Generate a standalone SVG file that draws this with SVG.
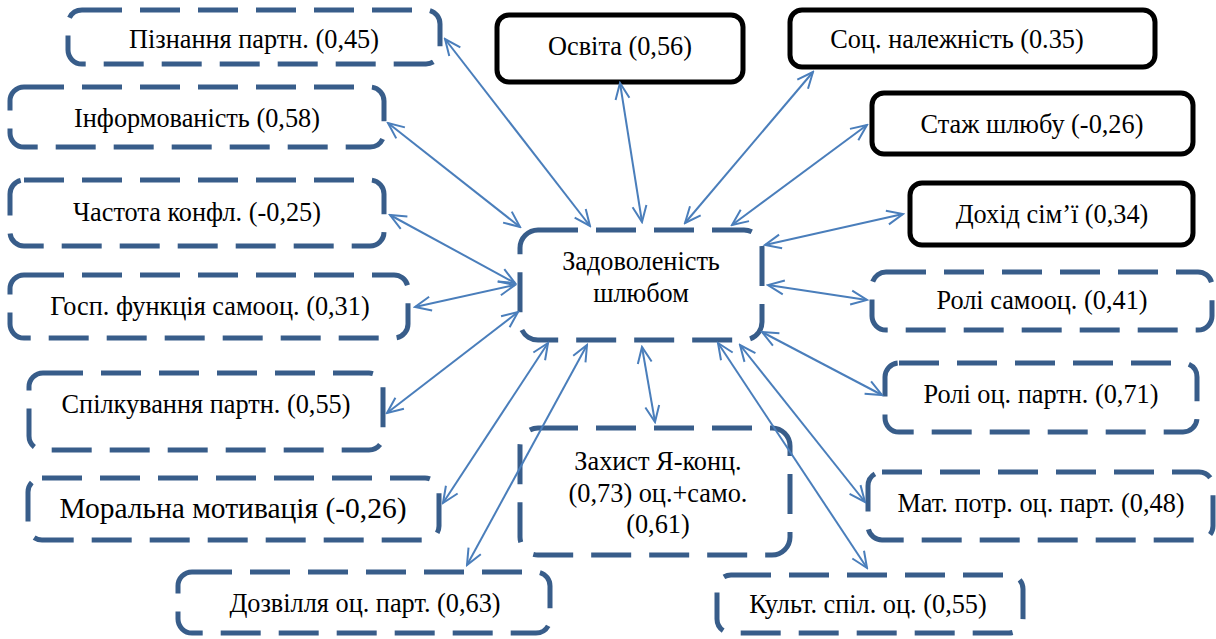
<svg xmlns="http://www.w3.org/2000/svg" width="1216" height="639" viewBox="0 0 1216 639">
<style>
.d{fill:#fff;stroke:#385D8A;stroke-width:5;stroke-dasharray:40 18}
.s{fill:#fff;stroke:#000;stroke-width:5}
text{font-family:"Liberation Serif","Times New Roman",serif;font-size:26.3px;fill:#000;text-anchor:middle}
.big{font-size:29.5px}
.c line{stroke:#4A7EBB;stroke-width:2;marker-start:url(#a);marker-end:url(#a)}
</style>
<defs>
<marker id="a" markerUnits="userSpaceOnUse" viewBox="0 0 20 20" markerWidth="20" markerHeight="20" refX="18" refY="10" orient="auto-start-reverse">
<path d="M2,3 L18,10 L2,17" fill="none" stroke="#4A7EBB" stroke-width="2"/>
</marker>
</defs>
<g id="n1"><rect class="d" x="68" y="10" width="372" height="54" rx="14"/><text x="254" y="48">Пізнання партн. (0,45)</text></g>
<g id="n2"><rect class="d" x="10" y="87" width="374" height="60" rx="14"/><text x="197" y="127">Інформованість (0,58)</text></g>
<g id="n3"><rect class="d" x="10" y="180" width="374" height="66" rx="14"/><text x="197" y="221">Частота конфл. (-0,25)</text></g>
<g id="n4"><rect class="d" x="10" y="275" width="398" height="63" rx="14"/><text x="210" y="315">Госп. функція самооц. (0,31)</text></g>
<g id="n5"><rect class="d" x="29" y="373" width="354" height="77" rx="14"/><text x="206" y="413">Спілкування партн. (0,55)</text></g>
<g id="n6"><rect class="d" x="28" y="478" width="411" height="62" rx="14"/><text class="big" x="233" y="518">Моральна мотивація (-0,26)</text></g>
<g id="n7"><rect class="d" x="178" y="572" width="372" height="61" rx="14"/><text x="365" y="612">Дозвілля оц. парт. (0,63)</text></g>
<g id="n8"><rect class="s" x="497" y="15" width="246" height="67" rx="12"/><text x="620" y="55">Освіта (0,56)</text></g>
<g id="n9"><rect class="s" x="790" y="10" width="365" height="57" rx="12"/><text x="957" y="48">Соц. належність (0.35)</text></g>
<g id="n10"><rect class="s" x="872" y="93" width="321" height="61" rx="12"/><text x="1032" y="133">Стаж шлюбу (-0,26)</text></g>
<g id="n11"><rect class="s" x="910" y="183" width="283" height="62" rx="12"/><text x="1052" y="223">Дохід сім’ї (0,34)</text></g>
<g id="n12"><rect class="d" x="872" y="272" width="340" height="58" rx="14"/><text x="1042" y="309">Ролі самооц. (0,41)</text></g>
<g id="n13"><rect class="d" x="885" y="363" width="312" height="69" rx="14"/><text x="1041" y="403">Ролі оц. партн. (0,71)</text></g>
<g id="n14"><rect class="d" x="868" y="472" width="345" height="68" rx="14"/><text x="1041" y="512">Мат. потр. оц. парт. (0,48)</text></g>
<g id="n15"><rect class="d" x="717" y="575" width="306" height="58" rx="14"/><text x="868" y="613">Культ. спіл. оц. (0,55)</text></g>
<g id="center"><rect class="d" x="520" y="230" width="242" height="110" rx="18"/><text x="641" y="270">Задоволеність</text><text x="641" y="302">шлюбом</text></g>
<g id="n16"><rect class="d" x="520" y="428" width="270" height="127" rx="18"/><text x="658" y="470">Захист Я-конц.</text><text x="658" y="502">(0,73) оц.+само.</text><text x="658" y="533">(0,61)</text></g>
<g id="connectors" class="c">
<line x1="445" y1="39" x2="590" y2="226"/>
<line x1="388" y1="123" x2="520" y2="227"/>
<line x1="390" y1="215" x2="515" y2="283"/>
<line x1="415" y1="307" x2="515" y2="285"/>
<line x1="387" y1="413" x2="518" y2="312"/>
<line x1="443" y1="503" x2="548" y2="343"/>
<line x1="467" y1="565" x2="587" y2="345"/>
<line x1="620" y1="83" x2="642" y2="222"/>
<line x1="813" y1="72" x2="685" y2="223"/>
<line x1="867" y1="125" x2="732" y2="225"/>
<line x1="903" y1="214" x2="765" y2="245"/>
<line x1="867" y1="300" x2="768" y2="285"/>
<line x1="882" y1="395" x2="762" y2="332"/>
<line x1="865" y1="502" x2="740" y2="345"/>
<line x1="867" y1="568" x2="718" y2="343"/>
<line x1="642" y1="347" x2="655" y2="422"/>
</g>
</svg>
